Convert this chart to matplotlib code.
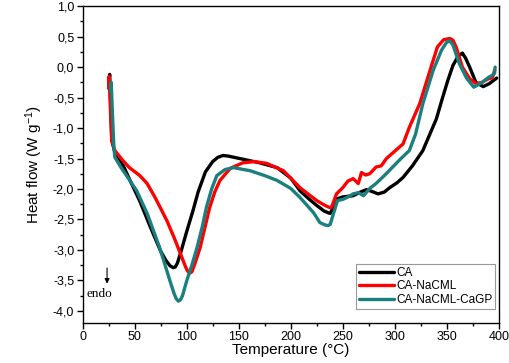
import matplotlib
matplotlib.use("Agg")
import matplotlib.pyplot as plt
from matplotlib.ticker import MultipleLocator, FuncFormatter

# ---- data ----
ca_T = [25.5, 26, 27, 28, 31, 38, 45.6, 55, 65, 75, 80, 84, 87, 89, 91, 94, 100, 106, 111, 118,
        125, 130, 135, 140, 151, 170, 187, 200, 209, 218, 225, 232, 236, 238, 241, 245, 250, 260,
        267, 273, 278, 284, 290, 295, 302, 308, 317, 327, 334, 340, 346, 351, 356, 361, 365, 368,
        372, 378, 385, 391, 398]
ca_v = [-0.20, -0.12, -0.60, -1.20, -1.40, -1.58, -1.86, -2.20, -2.62, -3.02, -3.17, -3.26, -3.29,
        -3.28, -3.22, -3.06, -2.70, -2.36, -2.05, -1.72, -1.55, -1.48, -1.45, -1.46, -1.50, -1.57,
        -1.65, -1.82, -2.03, -2.17, -2.27, -2.36, -2.39, -2.40, -2.30, -2.16, -2.13, -2.11, -2.05,
        -2.01, -2.04, -2.08, -2.05, -1.98, -1.90, -1.81, -1.62, -1.37, -1.09, -0.85, -0.50, -0.22,
        0.03, 0.18, 0.23, 0.15, 0.00, -0.25, -0.32, -0.27, -0.18]

nacml_T = [25, 25.5, 26.5, 28, 31, 38, 45, 55, 62, 70, 81, 88, 94, 99, 101, 103, 105, 108, 113,
           118, 122, 127, 132, 142, 154, 165, 177, 193, 209, 225, 233, 237, 239, 241, 244, 250,
           255, 260, 265, 268, 272, 276, 282, 287, 292, 300, 308, 314, 324, 334, 341, 347, 353,
           356, 359, 365, 372, 378, 384, 389, 394, 396]
nacml_v = [-0.35, -0.15, -0.60, -1.20, -1.37, -1.52, -1.65, -1.78, -1.91, -2.15, -2.52, -2.80,
           -3.06, -3.28, -3.35, -3.38, -3.36, -3.22, -2.96, -2.60, -2.31, -2.05, -1.86, -1.66,
           -1.57, -1.55, -1.58, -1.70, -1.98, -2.19, -2.27, -2.30, -2.31, -2.22, -2.08, -1.98,
           -1.87, -1.83, -1.91, -1.73, -1.77, -1.75, -1.64, -1.62, -1.50, -1.38, -1.26, -0.99,
           -0.60, -0.05, 0.33, 0.45, 0.47, 0.44, 0.33, 0.00, -0.19, -0.27, -0.25, -0.20, -0.17,
           -0.05]

cagp_T = [27, 27.5, 28.5, 30, 31, 37, 43, 52, 62, 74, 84, 88, 90, 92, 94, 96, 100, 105, 110,
          115, 119, 124, 129, 137, 145, 161, 175, 187, 200, 209, 222, 228, 233, 236, 238, 241,
          245, 250, 254, 260, 265, 270, 276, 282, 290, 298, 306, 314, 320, 327, 337, 345, 350,
          353, 356, 362, 369, 376, 384, 390, 394, 396, 396.5]
cagp_v = [-0.40, -0.25, -0.70, -1.30, -1.48, -1.65, -1.80, -2.03, -2.40, -2.96, -3.51, -3.72,
          -3.80, -3.84, -3.82, -3.75, -3.51, -3.25, -2.96, -2.62, -2.30, -2.00, -1.78, -1.68,
          -1.65, -1.70, -1.78, -1.86, -1.99, -2.14, -2.39, -2.55, -2.59, -2.60, -2.58, -2.41,
          -2.19, -2.17, -2.14, -2.08, -2.06, -2.11, -1.99, -1.91, -1.78, -1.64, -1.50, -1.37,
          -1.10, -0.60, -0.05, 0.28, 0.41, 0.43, 0.36, 0.06, -0.18, -0.33, -0.25, -0.17, -0.13,
          -0.10, 0.00]

labels = ["CA", "CA-NaCML", "CA-NaCML-CaGP"]
colors = ["#000000", "#ff0000", "#1b7f7f"]

plt.rcParams['font.family'] = ['Liberation Sans', 'DejaVu Sans']
plt.rcParams['mathtext.fontset'] = 'custom'
plt.rcParams['mathtext.rm'] = 'Liberation Sans'
plt.rcParams['mathtext.it'] = 'Liberation Sans:italic'
plt.rcParams['mathtext.bf'] = 'Liberation Sans:bold'

fig = plt.figure(figsize=(5.10, 3.63), dpi=100)
ax = fig.add_axes([0.162, 0.110, 0.816, 0.873])

for T, v, lab, c in zip([ca_T, nacml_T, cagp_T], [ca_v, nacml_v, cagp_v], labels, colors):
    ax.plot(T, v, color=c, lw=2.4, label=lab, solid_joinstyle='round', solid_capstyle='round')

ax.set_xlim(0, 400)
ax.set_ylim(-4.2, 1.0)
ax.xaxis.set_major_locator(MultipleLocator(50))
ax.xaxis.set_minor_locator(MultipleLocator(25))
ax.yaxis.set_major_locator(MultipleLocator(0.5))
ax.yaxis.set_minor_locator(MultipleLocator(0.25))
ax.yaxis.set_major_formatter(FuncFormatter(lambda v, p: f"{v:.1f}".replace('.', ',').replace('-0,0', '0,0')))
ax.tick_params(which='major', direction='out', length=4, width=1, labelsize=9, pad=2)
ax.tick_params(which='minor', direction='out', length=2.5, width=1)
for s in ax.spines.values():
    s.set_linewidth(1.0)

ax.set_xlabel("Temperature (°C)", fontsize=11, labelpad=0)
ax.set_ylabel(r"Heat flow (W g$^{\mathrm{-1}}$)", fontsize=11, labelpad=6)

ax.annotate("", xy=(23.5, -3.60), xytext=(23.5, -3.25),
            arrowprops=dict(arrowstyle='-|>', color='black', lw=0.8, mutation_scale=7))
ax.text(16, -3.72, "endo", family=['Liberation Serif'], fontsize=9.5, ha='center', va='center')

leg = ax.legend(loc='lower right', bbox_to_anchor=(0.992, 0.045), fontsize=8.5, frameon=True,
                fancybox=False, edgecolor='#808080', handlelength=3.0, handletextpad=0.15,
                borderpad=0.25, labelspacing=0.12, borderaxespad=0.0)
leg.get_frame().set_linewidth(0.8)

fig.savefig("out.png", dpi=100)
